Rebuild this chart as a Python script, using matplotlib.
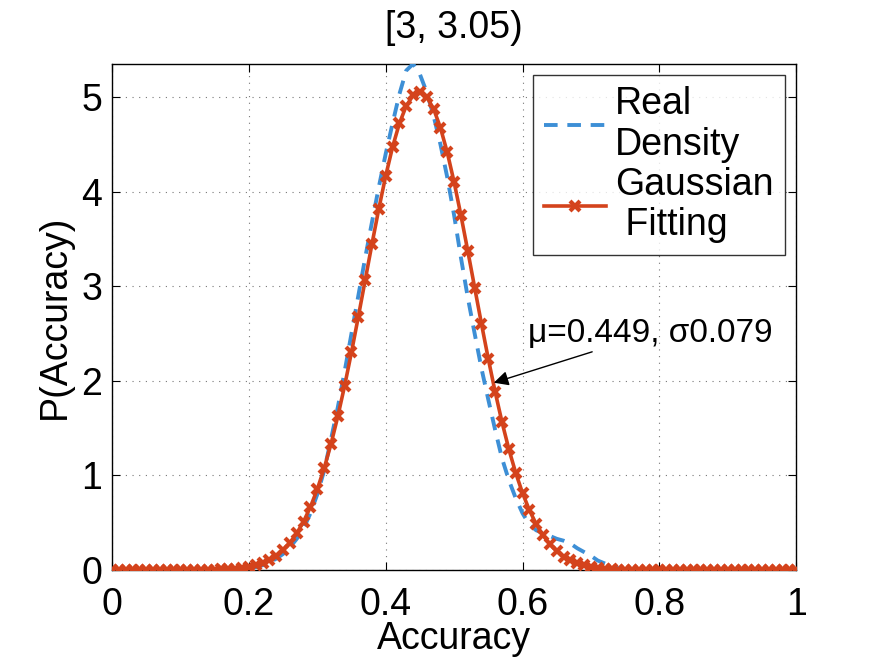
import numpy as np
import matplotlib
matplotlib.use("Agg")
import matplotlib.pyplot as plt

plt.rcParams['font.family'] = ['Liberation Sans', 'DejaVu Sans']

# accuracy grid (0.01 steps)
acc = np.round(np.arange(0, 1.001, 0.01), 2)

# real density, from 0.20 to 0.75 (0 elsewhere)
real_mid = [0.02, 0.03, 0.05, 0.08, 0.12, 0.17, 0.24, 0.33, 0.44, 0.60,
            0.80, 1.05, 1.38, 1.72, 2.10, 2.50, 2.90, 3.30, 3.68, 4.05,
            4.40, 4.72, 5.03, 5.28, 5.35, 5.24, 5.05, 4.80, 4.50, 4.15,
            3.75, 3.30, 2.88, 2.50, 2.13, 1.80, 1.48, 1.18, 0.95, 0.76,
            0.60, 0.48, 0.42, 0.39, 0.36, 0.33, 0.31, 0.28, 0.23, 0.19,
            0.15, 0.10, 0.07, 0.04, 0.02, 0.01]
real = [0.0]*20 + real_mid + [0.0]*25

# gaussian fitting markers, from 0.13 to 0.76 (0 elsewhere)
fit_mid = [0.001, 0.002, 0.004, 0.006, 0.010, 0.015, 0.023, 0.035, 0.052, 0.076,
           0.108, 0.153, 0.212, 0.289, 0.388, 0.513, 0.667, 0.853, 1.074, 1.331,
           1.624, 1.949, 2.303, 2.678, 3.063, 3.449, 3.821, 4.166, 4.471, 4.721,
           4.906, 5.017, 5.050, 5.001, 4.875, 4.676, 4.414, 4.100, 3.748, 3.372,
           2.986, 2.601, 2.230, 1.882, 1.563, 1.277, 1.027, 0.813, 0.633, 0.485,
           0.366, 0.272, 0.199, 0.143, 0.101, 0.070, 0.048, 0.032, 0.022, 0.014,
           0.009, 0.005, 0.003, 0.002]
fit = [0.0]*13 + fit_mid + [0.0]*24

fig = plt.figure(figsize=(8.75, 6.59), dpi=100)
ax = fig.add_axes([0.128, 0.135, 0.782, 0.768])

ax.plot(acc, real, color='#3d8fd6', lw=2.8, ls=(0, (3.5, 2.5)),
        label='Real\nDensity', zorder=3)
ax.plot(acc, fit, color='#d4431c', lw=2.6, marker='x', ms=7.5, mew=3.0,
        label='Gaussian\n Fitting', zorder=4)

ax.set_xlim(0, 1)
ax.set_ylim(0, 5.35)
ax.set_xticks([0, 0.2, 0.4, 0.6, 0.8, 1])
ax.set_xticklabels(['0', '0.2', '0.4', '0.6', '0.8', '1'])
ax.set_yticks([0, 1, 2, 3, 4, 5])
ax.tick_params(direction='in', top=True, right=True, labelsize=27, length=6)
ax.tick_params(axis='x', pad=12)
ax.tick_params(axis='y', pad=7)
ax.grid(True, ls=(0, (1, 5)), color='#777777', lw=0.8)
for s in ax.spines.values():
    s.set_linewidth(1.0)

ax.set_xlabel('Accuracy', fontsize=27, labelpad=-1)
ax.set_ylabel('P(Accuracy)', fontsize=27, labelpad=6)
ax.set_title('[3, 3.05)', fontsize=27, pad=19)

leg = ax.legend(loc='upper right', fontsize=27, frameon=True, fancybox=False,
                edgecolor='black', handlelength=1.65, borderaxespad=0.3,
                labelspacing=0.12, handletextpad=0.25, borderpad=0.3)
leg.get_frame().set_linewidth(1.0)
for t in leg.get_texts():
    t.set_linespacing(1.15)

ax.annotate('\u03bc=0.449, \u03c30.079', xy=(0.558, 1.98), xytext=(0.608, 2.5),
            fontsize=24, ha='left', va='center',
            arrowprops=dict(arrowstyle='-|>', color='black', lw=1.0,
                            mutation_scale=22, shrinkA=0, shrinkB=0),
            zorder=6)

fig.savefig('out.png', dpi=100)
